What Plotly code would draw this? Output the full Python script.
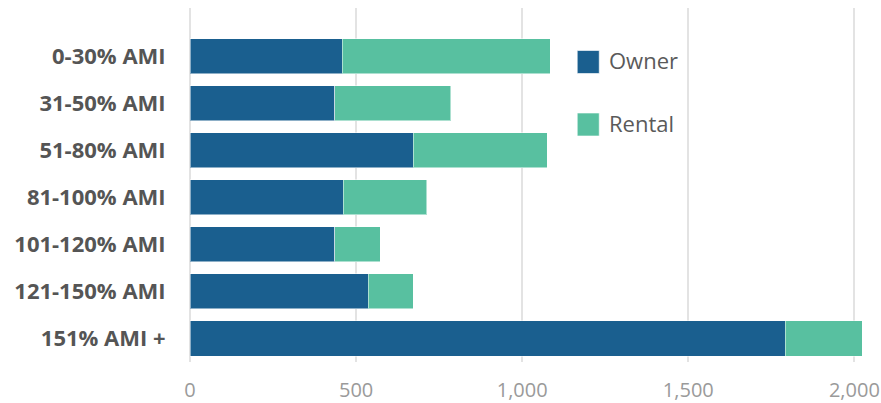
import plotly.graph_objects as go

categories = ["0-30% AMI", "31-50% AMI", "51-80% AMI", "81-100% AMI",
              "101-120% AMI", "121-150% AMI", "151% AMI +"]
owner = [459, 436, 672, 462, 436, 537, 1792]
rental = [626, 349, 403, 251, 136, 135, 232]
x_ticks = [0, 500, 1000, 1500, 2000]
x_tick_labels = ["0", "500", "1,000", "1,500", "2,000"]

OWNER_C = "#1a5f8f"
RENTAL_C = "#58c0a0"

fig = go.Figure()
fig.add_trace(go.Bar(y=categories, x=owner, name="Owner", orientation="h",
                     marker=dict(color=OWNER_C, line=dict(color="rgba(255,255,255,0.5)", width=1)),
                     width=0.745, showlegend=False))
fig.add_trace(go.Bar(y=categories, x=rental, name="Rental", orientation="h",
                     marker=dict(color=RENTAL_C, line=dict(color="rgba(255,255,255,0.5)", width=1)),
                     width=0.745, showlegend=False))

# custom legend (large squares)
legend_items = [("Owner", OWNER_C, 50.5), ("Rental", RENTAL_C, 113)]
for name, col, ytop in legend_items:
    fig.add_shape(type="rect", xref="paper", yref="paper",
                  x0=(577 - 190) / 680.6, x1=(599 - 190) / 680.6,
                  y0=(362 - (ytop + 23)) / 354, y1=(362 - ytop) / 354,
                  fillcolor=col, line=dict(color="rgba(255,255,255,0.6)", width=1))
    fig.add_annotation(text=name, xref="paper", yref="paper",
                       x=(607 - 190) / 680.6, y=(362 - (ytop + 9.5)) / 354,
                       xanchor="left", yanchor="middle", showarrow=False,
                       font=dict(family="Open Sans", size=22, color="#5a5a5a"))

fig.update_layout(
    barmode="stack",
    width=881, height=403,
    margin=dict(l=190, r=10, t=8, b=41),
    plot_bgcolor="white", paper_bgcolor="white",
    font=dict(family="Open Sans"),
)
fig.update_xaxes(range=[0, 2050], tickvals=x_ticks, ticktext=x_tick_labels,
                 automargin=False, ticklabeloverflow="allow",
                 showgrid=True, gridcolor="#e3e3e3", gridwidth=2,
                 zeroline=True, zerolinecolor="#e3e3e3", zerolinewidth=2,
                 showline=False,
                 tickfont=dict(family="Open Sans", size=20, color="#9a9a9a"),
                 ticks="outside", ticklen=10, tickcolor="rgba(0,0,0,0)")
fig.update_yaxes(categoryorder="array", categoryarray=categories,
                 automargin=False,
                 range=[6.5, -1.03], showgrid=False, zeroline=False, showline=False,
                 tickfont=dict(family="Open Sans", size=22, color="#555555", weight="bold"),
                 ticks="outside", ticklen=19, tickcolor="rgba(0,0,0,0)")

# remove the browser's default 8px body margin so the figure fills the window
fig.write_html("out.html",
               config={"displayModeBar": False},
               post_script="document.body.style.margin='0';document.body.style.overflow='hidden';")
